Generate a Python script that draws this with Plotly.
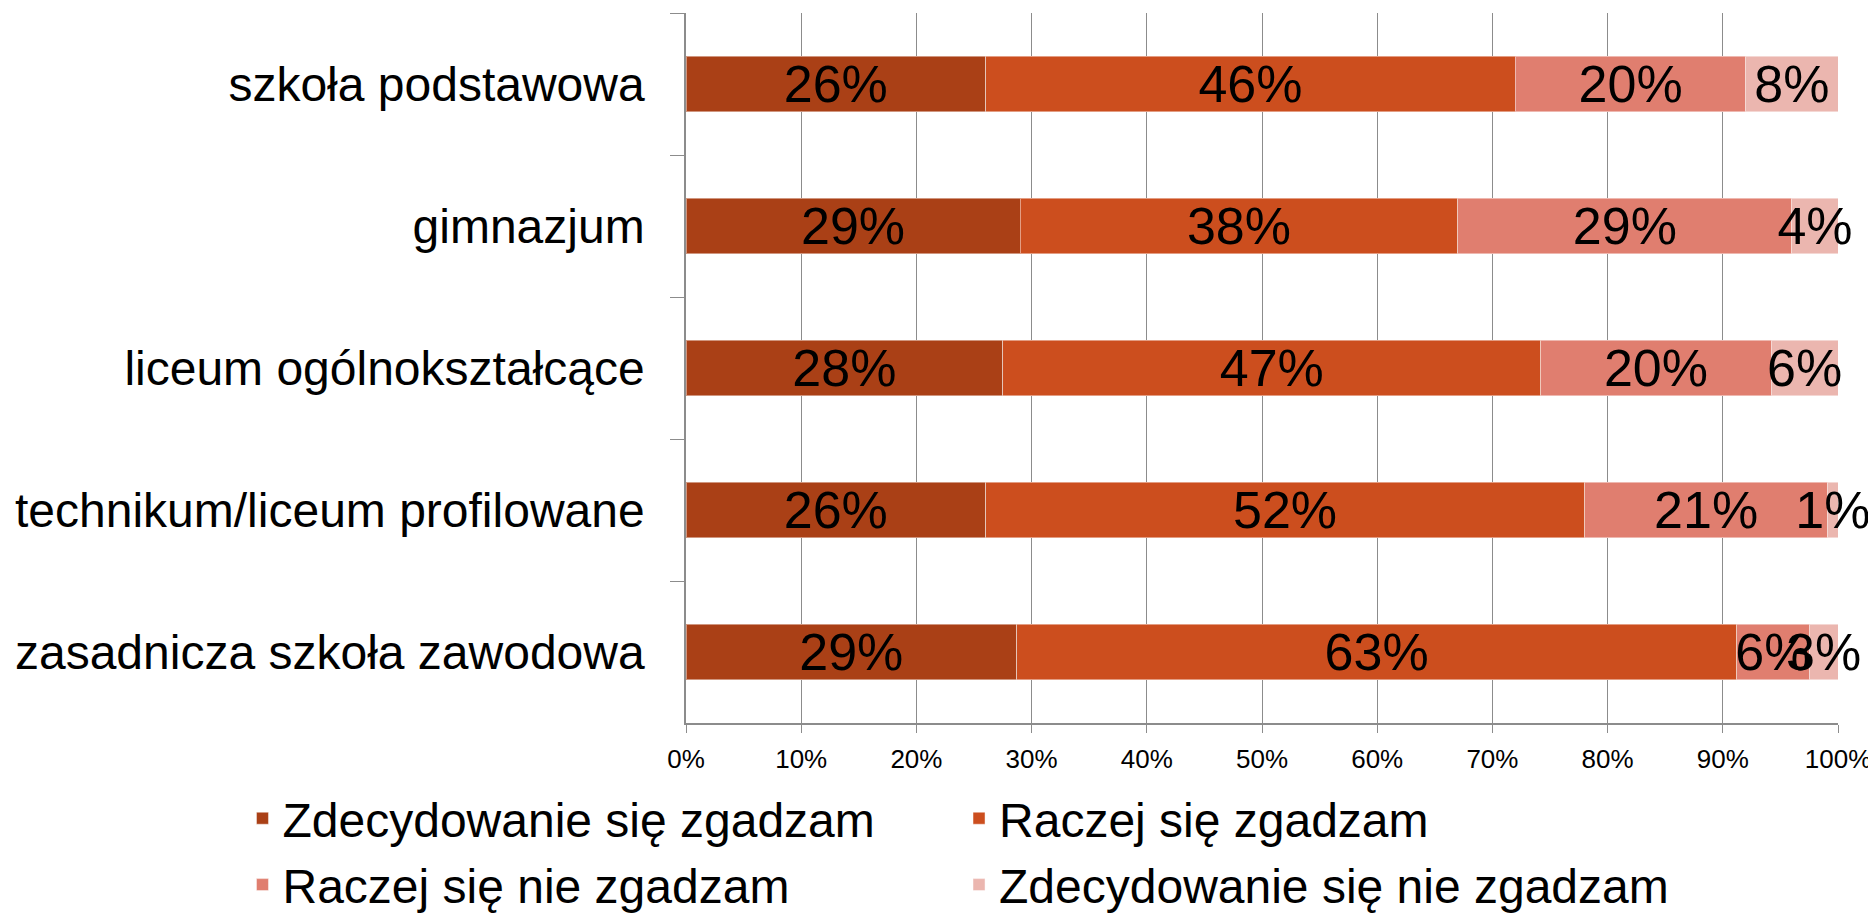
import plotly.graph_objects as go

categories = [
    "szkoła podstawowa",
    "gimnazjum",
    "liceum ogólnokształcące",
    "technikum/liceum profilowane",
    "zasadnicza szkoła zawodowa",
]
series_names = [
    "Zdecydowanie się zgadzam",
    "Raczej się zgadzam",
    "Raczej się nie zgadzam",
    "Zdecydowanie się nie zgadzam",
]
zdecydowanie_zgadzam = [26.0, 29.0, 27.5, 26.0, 28.7]
raczej_zgadzam = [46.0, 38.0, 46.7, 52.0, 62.5]
raczej_nie_zgadzam = [20.0, 29.0, 20.0, 21.1, 6.3]
zdecydowanie_nie_zgadzam = [8.0, 4.0, 5.8, 0.9, 2.5]

labels_zdecydowanie_zgadzam = [26, 29, 28, 26, 29]
labels_raczej_zgadzam = [46, 38, 47, 52, 63]
labels_raczej_nie_zgadzam = [20, 29, 20, 21, 6]
labels_zdecydowanie_nie_zgadzam = [8, 4, 6, 1, 3]

x_ticks = [0, 10, 20, 30, 40, 50, 60, 70, 80, 90, 100]

colors = ["#AA4016", "#CC4E1E", "#E07E6F", "#EBB6AF"]
values = [zdecydowanie_zgadzam, raczej_zgadzam, raczej_nie_zgadzam, zdecydowanie_nie_zgadzam]
labels = [labels_zdecydowanie_zgadzam, labels_raczej_zgadzam,
          labels_raczej_nie_zgadzam, labels_zdecydowanie_nie_zgadzam]
legend_ids = ["legend", "legend2", "legend", "legend2"]

FONT = "Liberation Sans, Arial, sans-serif"

fig = go.Figure()
for name, vals, labs, col, lg in zip(series_names, values, labels, colors, legend_ids):
    fig.add_trace(go.Bar(
        y=categories,
        x=vals,
        name=name,
        orientation="h",
        marker=dict(color=col, line=dict(color="rgba(255,255,255,0.45)", width=1)),
        text=[f"{v}%" for v in labs],
        textposition="inside",
        insidetextanchor="middle",
        textangle=0,
        constraintext="none",
        cliponaxis=False,
        textfont=dict(family=FONT, size=52, color="black"),
        legend=lg,
        legendgroup=name,
        hoverinfo="skip",
    ))

fig.update_layout(
    barmode="stack",
    bargap=0.606,
    width=1868,
    height=907,
    margin=dict(l=678, r=38, t=5, b=192, autoexpand=False),
    paper_bgcolor="white",
    plot_bgcolor="white",
    font=dict(family=FONT, color="black"),
    showlegend=True,
    legend=dict(
        x=-0.385, xanchor="left", y=-0.081, yanchor="top",
        orientation="v", font=dict(family=FONT, size=48, color="black"),
        tracegroupgap=1, bgcolor="rgba(0,0,0,0)",
    ),
    legend2=dict(
        x=0.237, xanchor="left", y=-0.081, yanchor="top",
        orientation="v", font=dict(family=FONT, size=48, color="black"),
        tracegroupgap=1, bgcolor="rgba(0,0,0,0)",
    ),
)

fig.update_xaxes(
    range=[0, 100],
    tickvals=x_ticks,
    ticktext=[f"{t}%" for t in x_ticks],
    showgrid=True, gridcolor="#8C8C8C", gridwidth=1.3,
    showline=True, linecolor="#8C8C8C", linewidth=1.5,
    ticks="outside", ticklen=8, tickcolor="#8C8C8C", tickwidth=1.3,
    ticklabelstandoff=4,
    tickfont=dict(family=FONT, size=26, color="black"),
    zeroline=False,
    fixedrange=True,
)
fig.update_yaxes(
    categoryorder="array",
    categoryarray=categories,
    autorange="reversed",
    showgrid=False,
    showline=True, linecolor="#8C8C8C", linewidth=1.5,
    ticks="outside", tickson="boundaries", ticklen=14, tickcolor="#8C8C8C", tickwidth=1.3,
    ticklabelstandoff=30,
    tickfont=dict(family=FONT, size=48, color="black"),
    fixedrange=True,
)

fig.write_html("out.html")
